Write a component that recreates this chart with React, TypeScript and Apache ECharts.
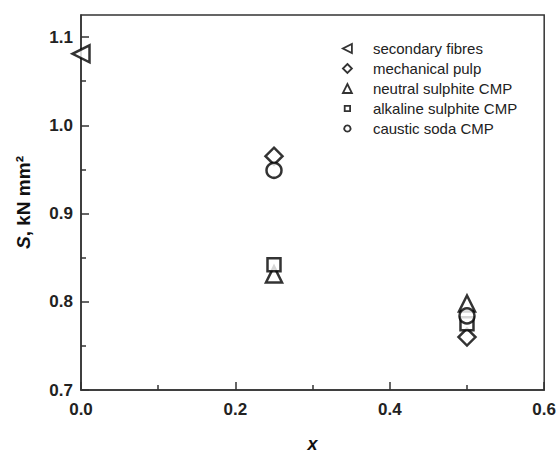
import React, { useEffect, useRef } from "react";
import * as echarts from "echarts";

const seriesNames = [
  "secondary fibres",
  "mechanical pulp",
  "neutral sulphite CMP",
  "alkaline sulphite CMP",
  "caustic soda CMP",
];
const secondaryFibres: [number, number][] = [[0, 1.081]];
const mechanicalPulp: [number, number][] = [[0.25, 0.965], [0.5, 0.76]];
const neutralSulphite: [number, number][] = [[0.25, 0.831], [0.5, 0.798]];
const alkalineSulphite: [number, number][] = [[0.25, 0.842], [0.5, 0.775]];
const causticSoda: [number, number][] = [[0.25, 0.949], [0.5, 0.784]];

const yMajorTicks = [0.7, 0.8, 0.9, 1.0, 1.1];
const yMinorTicks = [0.75, 0.85, 0.95, 1.05];

const leftTriangle = "path://M10,0 L10,10 L0,5 Z";
const smallRect = "path://M2,2 L8,2 L8,8 L2,8 Z M0,0 M10,10";
const smallCircle = "path://M5,1.5 A3.5,3.5 0 1 1 4.99,1.5 Z M0,0 M10,10";
const symbols = [leftTriangle, "diamond", "triangle", "rect", "circle"];
const legendIcons = [leftTriangle, "diamond", "triangle", smallRect, smallCircle];
const sizes = [17, 17, 16, 13, 15];
const datasets = [secondaryFibres, mechanicalPulp, neutralSulphite, alkalineSulphite, causticSoda];

export default function App() {
  const ref = useRef<HTMLDivElement>(null);
  useEffect(() => {
    if (!ref.current) return;
    const chart = echarts.init(ref.current, null, { renderer: "svg" });
    const font = "'Liberation Sans', Arial, sans-serif";
    const labelStyle = { fontFamily: font, fontWeight: "bold", fontSize: 17, color: "#222" };
    chart.setOption({
      animation: false,
      backgroundColor: "#fff",
      grid: {
        left: 81,
        right: 14,
        top: 15,
        bottom: 63,
        show: true,
        borderColor: "#333",
        borderWidth: 1.5,
        backgroundColor: "transparent",
      },
      legend: {
        orient: "vertical",
        left: 337,
        top: 36,
        itemWidth: 9,
        itemHeight: 9,
        itemGap: 5,
        data: seriesNames.map((name, i) => ({ name, icon: legendIcons[i], itemStyle: { borderWidth: 1.8 } })),
        textStyle: { fontFamily: font, fontSize: 15, color: "#222", lineHeight: 15, padding: [0, 0, 0, 16] },
      },
      xAxis: {
        type: "value",
        min: 0,
        max: 0.6,
        interval: 0.2,
        name: "x",
        nameLocation: "middle",
        nameGap: 45,
        nameTextStyle: { fontFamily: font, fontWeight: "bold", fontStyle: "italic", fontSize: 18, color: "#111" },
        axisLine: { lineStyle: { color: "#333", width: 1.5 } },
        axisTick: { inside: true, length: 8, lineStyle: { color: "#333", width: 1.5 } },
        minorTick: { show: true, splitNumber: 2, length: 5, lineStyle: { color: "#333", width: 1.5 } },
        splitLine: { show: false },
        axisLabel: { ...labelStyle, margin: 11, formatter: (v: number) => v.toFixed(1) },
      },
      yAxis: [
        {
          type: "value",
          min: 0.7,
          max: 1.125,
          name: "{it|S}{b|, kN mm²}",
          nameLocation: "middle",
          nameGap: 48,
          nameTextStyle: {
            fontFamily: font,
            fontWeight: "bold",
            fontSize: 19,
            color: "#111",
            rich: {
              it: { fontFamily: font, fontWeight: "bold", fontStyle: "italic", fontSize: 19, color: "#111" },
              b: { fontFamily: font, fontWeight: "bold", fontSize: 19, color: "#111" },
            },
          },
          axisLine: { show: true, lineStyle: { color: "#333", width: 1.5 } },
          axisTick: { inside: true, length: 8, customValues: yMajorTicks, lineStyle: { color: "#333", width: 1.5 } },
          splitLine: { show: false },
          axisLabel: { ...labelStyle, margin: 8, customValues: yMajorTicks, formatter: (v: number) => v.toFixed(1) },
        },
        {
          type: "value",
          min: 0.7,
          max: 1.125,
          position: "left",
          axisLine: { show: false },
          axisTick: { inside: true, length: 5, customValues: yMinorTicks, lineStyle: { color: "#333", width: 1.5 } },
          axisLabel: { show: false, customValues: yMinorTicks },
          splitLine: { show: false },
        },
      ],
      series: seriesNames.map((name, i) => ({
        name,
        type: "scatter",
        data: datasets[i],
        symbol: symbols[i],
        symbolSize: sizes[i],
        yAxisIndex: 0,
        clip: false,
        itemStyle: { color: "#fff", borderColor: "#000", borderWidth: 2.5 },
      })),
    });
    return () => chart.dispose();
  }, []);
  return (
    <div
      ref={ref}
      style={{ position: "absolute", left: 0, top: 0, width: 559, height: 458 }}
    />
  );
}
